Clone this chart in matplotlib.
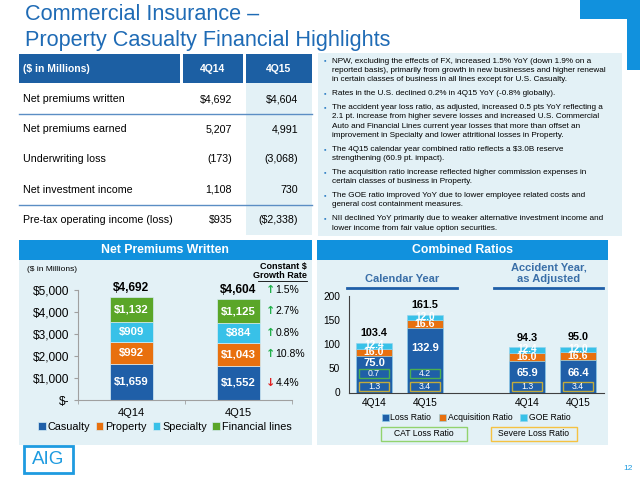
import numpy as np
import matplotlib
matplotlib.use('Agg')
import matplotlib.pyplot as plt
from matplotlib.patches import Rectangle

plt.rcParams['font.family'] = ['Liberation Sans', 'DejaVu Sans']

# ---- data ----
table_rows = ['Net premiums written', 'Net premiums earned', 'Underwriting loss',
              'Net investment income', 'Pre-tax operating income (loss)']
col_4q14 = ['$4,692', '5,207', '(173)', '1,108', '$935']
col_4q15 = ['$4,604', '4,991', '(3,068)', '730', '($2,338)']

bullets = [
    ['NPW, excluding the effects of FX, increased 1.5% YoY (down 1.9% on a',
     'reported basis), primarily from growth in new businesses and higher renewal',
     'in certain classes of business in all lines except for U.S. Casualty.'],
    ['Rates in the U.S. declined 0.2% in 4Q15 YoY (-0.8% globally).'],
    ['The accident year loss ratio, as adjusted, increased 0.5 pts YoY reflecting a',
     '2.1 pt. increase from higher severe losses and increased U.S. Commercial',
     'Auto and Financial Lines current year losses that more than offset an',
     'improvement in Specialty and lower attritional losses in Property.'],
    ['The 4Q15 calendar year combined ratio reflects a $3.0B reserve',
     'strengthening (60.9 pt. impact).'],
    ['The acquisition ratio increase reflected higher commission expenses in',
     'certain classes of business in Property.'],
    ['The GOE ratio improved YoY due to lower employee related costs and',
     'general cost containment measures.'],
    ['NII declined YoY primarily due to weaker alternative investment income and',
     'lower income from fair value option securities.'],
]

npw_quarters = ['4Q14', '4Q15']
npw_segments = ['Casualty', 'Property', 'Specialty', 'Financial lines']
npw_values = {
    'Casualty': [1659, 1552],
    'Property': [992, 1043],
    'Specialty': [909, 884],
    'Financial lines': [1132, 1125],
}
npw_totals = [4692, 4604]
growth_seg = [-4.4, 10.8, 0.8, 2.7]
growth_total = 1.5

cr_quarters = ['4Q14', '4Q15', '4Q14', '4Q15']
loss_ratio = [75.0, 132.9, 65.9, 66.4]
acq_ratio = [16.0, 16.6, 16.0, 16.6]
goe_ratio = [12.4, 12.0, 12.4, 12.0]
cr_totals = [103.4, 161.5, 94.3, 95.0]
cat_loss = [0.7, 4.2]
severe_loss = [1.3, 3.4, 1.3, 3.4]

# ---- colours ----
c_dark = '#1f5fa8'
c_orange = '#e8700e'
c_cyan = '#38c1e8'
c_green = '#5aa628'
c_head = '#1c5fa3'
c_bar = '#1191dd'
c_bg = '#e3f1f6'
c_title = '#1f6bb5'

W, H = 640, 479
fig = plt.figure(figsize=(6.4, 4.79), dpi=100)


def px_axes(x0, y0, x1, y1):
    return fig.add_axes([x0 / W, 1 - y1 / H, (x1 - x0) / W, (y1 - y0) / H])


bg = fig.add_axes([0, 0, 1, 1])
bg.set_xlim(0, W)
bg.set_ylim(H, 0)
bg.axis('off')
bg.set_zorder(0)


def box(x0, y0, x1, y1, **kw):
    bg.add_patch(Rectangle((x0, y0), x1 - x0, y1 - y0, **kw))


# title and corner block
bg.text(25, 14, 'Commercial Insurance \u2013', fontsize=15.6, color=c_title, va='center')
bg.text(25, 40, 'Property Casualty Financial Highlights', fontsize=15.6, color=c_title, va='center')
box(580, 0, 640, 19, color=c_bar, lw=0)
box(627, 0, 640, 70, color=c_bar, lw=0)

# table
box(19, 54, 180, 83, color=c_head, lw=0)
box(183, 54, 243, 83, color=c_head, lw=0)
box(246, 54, 312, 83, color=c_head, lw=0)
box(246, 83, 312, 235, color=c_bg, lw=0)
bg.text(23, 69, '($ in Millions)', color='white', fontsize=7.5, weight='bold', va='center')
bg.text(213, 69, '4Q14', color='white', fontsize=7.5, weight='bold', va='center', ha='center')
bg.text(279, 69, '4Q15', color='white', fontsize=7.5, weight='bold', va='center', ha='center')
row_y = [99, 129, 159, 190, 220]
for y, lab, a, b in zip(row_y, table_rows, col_4q14, col_4q15):
    bg.text(23, y, lab, fontsize=7.7, va='center')
    bg.text(232, y, a, fontsize=7.7, va='center', ha='right')
    bg.text(298, y, b, fontsize=7.7, va='center', ha='right')
bg.plot([19, 312], [114, 114], color='#5b8ec4', lw=1)
bg.plot([19, 312], [205, 205], color='#5b8ec4', lw=1)

# commentary box
box(318, 53, 622, 236, color=c_bg, lw=0)
y = 61
for b_lines in bullets:
    bg.text(325, y, '\u25aa', fontsize=5, color='#3a86c8', va='center', ha='center')
    for line in b_lines:
        bg.text(332, y, line, fontsize=5.9, va='center')
        y += 9.3
    y += 4.6

# panels
box(19, 240, 312, 445, color=c_bg, lw=0)
box(317, 240, 608, 445, color=c_bg, lw=0)
box(19, 240, 312, 260, color=c_bar, lw=0)
box(317, 240, 608, 260, color=c_bar, lw=0)
bg.text(165, 250, 'Net Premiums Written', color='white', fontsize=8.8, weight='bold',
        ha='center', va='center')
bg.text(463, 250, 'Combined Ratios', color='white', fontsize=8.8, weight='bold',
        ha='center', va='center')

# ---- Net premiums written chart ----
ax1 = px_axes(78, 290, 292, 400)
ax1.set_zorder(2)
ax1.patch.set_alpha(0)
x1 = np.arange(len(npw_quarters))
seg_colors = [c_dark, c_orange, c_cyan, c_green]
bottom = np.zeros(len(x1))
handles = []
for seg, col in zip(npw_segments, seg_colors):
    vals = np.array(npw_values[seg])
    bars = ax1.bar(x1, vals, 0.4, bottom=bottom, color=col, edgecolor='#d6ecf5', lw=0.5)
    handles.append(bars)
    for xi, v, b0 in zip(x1, vals, bottom):
        ax1.text(xi, b0 + v / 2, '${:,}'.format(v), color='white', fontsize=8.2,
                 weight='bold', ha='center', va='center')
    bottom = bottom + vals
for xi, t in zip(x1, npw_totals):
    ax1.annotate('${:,}'.format(t), (xi, t), xytext=(0, 2), textcoords='offset points',
                 ha='center', va='bottom', fontsize=8.6, weight='bold')
ax1.set_xlim(-0.5, 1.5)
ax1.set_ylim(0, 5000)
ax1.set_yticks(np.arange(0, 5001, 1000))
ax1.set_yticklabels(['$-'] + ['${:,}'.format(v) for v in range(1000, 5001, 1000)], fontsize=8.6)
ax1.set_xticks(x1)
ax1.set_xticklabels(npw_quarters, fontsize=8)
ax1.set_xticks([-0.5, 0.5, 1.5], minor=True)
ax1.tick_params(axis='x', which='major', length=0, pad=6)
ax1.tick_params(axis='x', which='minor', length=3, color='#a0a0a0')
ax1.tick_params(axis='y', length=3, color='#a0a0a0', pad=3)
for s in ['top', 'right']:
    ax1.spines[s].set_visible(False)
for s in ['left', 'bottom']:
    ax1.spines[s].set_color('#a0a0a0')

# growth rates
seg_vals_q15 = np.array([npw_values[s][1] for s in npw_segments])
seg_centers = np.cumsum(seg_vals_q15) - seg_vals_q15 / 2
for g, yc in zip(growth_seg, seg_centers):
    up = g >= 0
    ax1.text(1.30, yc, '\u2191' if up else '\u2193', color='#22b04a' if up else '#e02020',
             fontsize=8, weight='bold', ha='center', va='center', family=['DejaVu Sans'])
    ax1.text(1.345, yc, '{:.1f}%'.format(abs(g)), fontsize=7.5, ha='left', va='center')
ax1.annotate('\u2191', (1.30, npw_totals[1]), xytext=(0, 6.5), textcoords='offset points',
             color='#22b04a', fontsize=8, weight='bold', ha='center', va='center',
             family=['DejaVu Sans'], annotation_clip=False)
ax1.annotate('{:.1f}%'.format(growth_total), (1.345, npw_totals[1]), xytext=(0, 6.5),
             textcoords='offset points', fontsize=7.5, ha='left', va='center',
             annotation_clip=False)

bg.text(27, 271, '($ in Millions)', fontsize=6)
bg.text(307, 267, 'Constant $', fontsize=6.5, weight='bold', ha='right', va='center')
bg.text(307, 276, 'Growth Rate', fontsize=6.5, weight='bold', ha='right', va='center')
bg.plot([258, 307], [281, 281], color='black', lw=0.6)

ax1.legend(handles, npw_segments, loc='center', bbox_to_anchor=(165, 427),
           bbox_transform=bg.transData, ncol=4, frameon=False, fontsize=7.8,
           handlelength=0.7, handleheight=0.7, handletextpad=0.2, columnspacing=0.5,
           borderpad=0)

# ---- Combined ratios chart ----
ax2 = px_axes(348.5, 296, 603.5, 392.5)
ax2.set_zorder(2)
ax2.patch.set_alpha(0)
x2 = np.array([0, 1, 3, 4])
loss = np.array(loss_ratio)
acq = np.array(acq_ratio)
goe = np.array(goe_ratio)
h_loss = ax2.bar(x2, loss, 0.7, color=c_dark, edgecolor='#8fd3ef', lw=0.4)
h_acq = ax2.bar(x2, acq, 0.7, bottom=loss, color=c_orange, edgecolor='#8fd3ef', lw=0.4)
h_goe = ax2.bar(x2, goe, 0.7, bottom=loss + acq, color=c_cyan, edgecolor='#8fd3ef', lw=0.4)

loss_lbl_y = [62, 93, 41, 41]
for xi, l, a, g, t, ly in zip(x2, loss, acq, goe, cr_totals, loss_lbl_y):
    ax2.text(xi, ly, '{:.1f}'.format(l), color='white', fontsize=8, weight='bold',
             ha='center', va='center')
    ax2.text(xi, l + a / 2, '{:.1f}'.format(a), color='white', fontsize=7.6, weight='bold',
             ha='center', va='center')
    ax2.text(xi, l + a + g / 2 + 1.5, '{:.1f}'.format(g), color='white', fontsize=7.3,
             weight='bold', ha='center', va='center')
    ax2.annotate('{:.1f}'.format(t), (xi, t), xytext=(0, 3), textcoords='offset points',
                 ha='center', va='bottom', fontsize=7.8, weight='bold')

for xi, v in zip(x2[:2], cat_loss):
    ax2.add_patch(Rectangle((xi - 0.3, 31), 0.6, 18.5, fill=False, edgecolor='#4caf50', lw=1))
    ax2.text(xi, 40, '{:.1f}'.format(v), color='white', fontsize=6.3, ha='center', va='center')
for xi, v in zip(x2, severe_loss):
    ax2.add_patch(Rectangle((xi - 0.3, 2.5), 0.6, 20, fill=False, edgecolor='#c2ab3c', lw=1))
    ax2.text(xi, 12.5, '{:.1f}'.format(v), color='white', fontsize=6.3, ha='center', va='center')

ax2.set_xlim(-0.5, 4.5)
ax2.set_ylim(0, 200)
ax2.set_yticks(np.arange(0, 201, 50))
ax2.tick_params(axis='y', length=0, labelsize=7.3, pad=6)
ax2.set_xticks(x2)
ax2.set_xticklabels(cr_quarters, fontsize=7.3)
ax2.tick_params(axis='x', length=0, pad=4)
for s in ['top', 'right']:
    ax2.spines[s].set_visible(False)
ax2.spines['left'].set_color('#404040')
ax2.spines['bottom'].set_color('#404040')

bg.text(402, 279, 'Calendar Year', fontsize=8, weight='bold', color='#3a6fa8',
        ha='center', va='center')
bg.text(549, 268, 'Accident Year,', fontsize=8, weight='bold', color='#3a6fa8',
        ha='center', va='center')
bg.text(549, 279, 'as Adjusted', fontsize=8, weight='bold', color='#3a6fa8',
        ha='center', va='center')
bg.plot([347, 457], [288, 288], color=c_dark, lw=2)
bg.plot([494, 603], [288, 288], color=c_dark, lw=2)

ax2.legend([h_loss, h_acq, h_goe], ['Loss Ratio', 'Acquisition Ratio', 'GOE Ratio'],
           loc='center', bbox_to_anchor=(476, 418), bbox_transform=bg.transData, ncol=3,
           frameon=False, fontsize=6.2, handlelength=0.8, handleheight=0.8,
           handletextpad=0.2, columnspacing=0.9, borderpad=0)

box(381, 427, 467, 441, fill=False, edgecolor='#92d36e', lw=1)
box(491, 427, 577, 441, fill=False, edgecolor='#f5c242', lw=1)
bg.text(424, 434, 'CAT Loss Ratio', fontsize=6.2, ha='center', va='center')
bg.text(534, 434, 'Severe Loss Ratio', fontsize=6.2, ha='center', va='center')

# footer
box(24, 446, 73, 473, facecolor='white', edgecolor='#1e9be0', lw=2)
bg.text(48.5, 460, 'AIG', fontsize=13.5, color='#1e9be0', ha='center', va='center')
bg.text(628, 468, '12', fontsize=6, color='#1e9be0', ha='center', va='center')

fig.savefig('out.png', dpi=100)
